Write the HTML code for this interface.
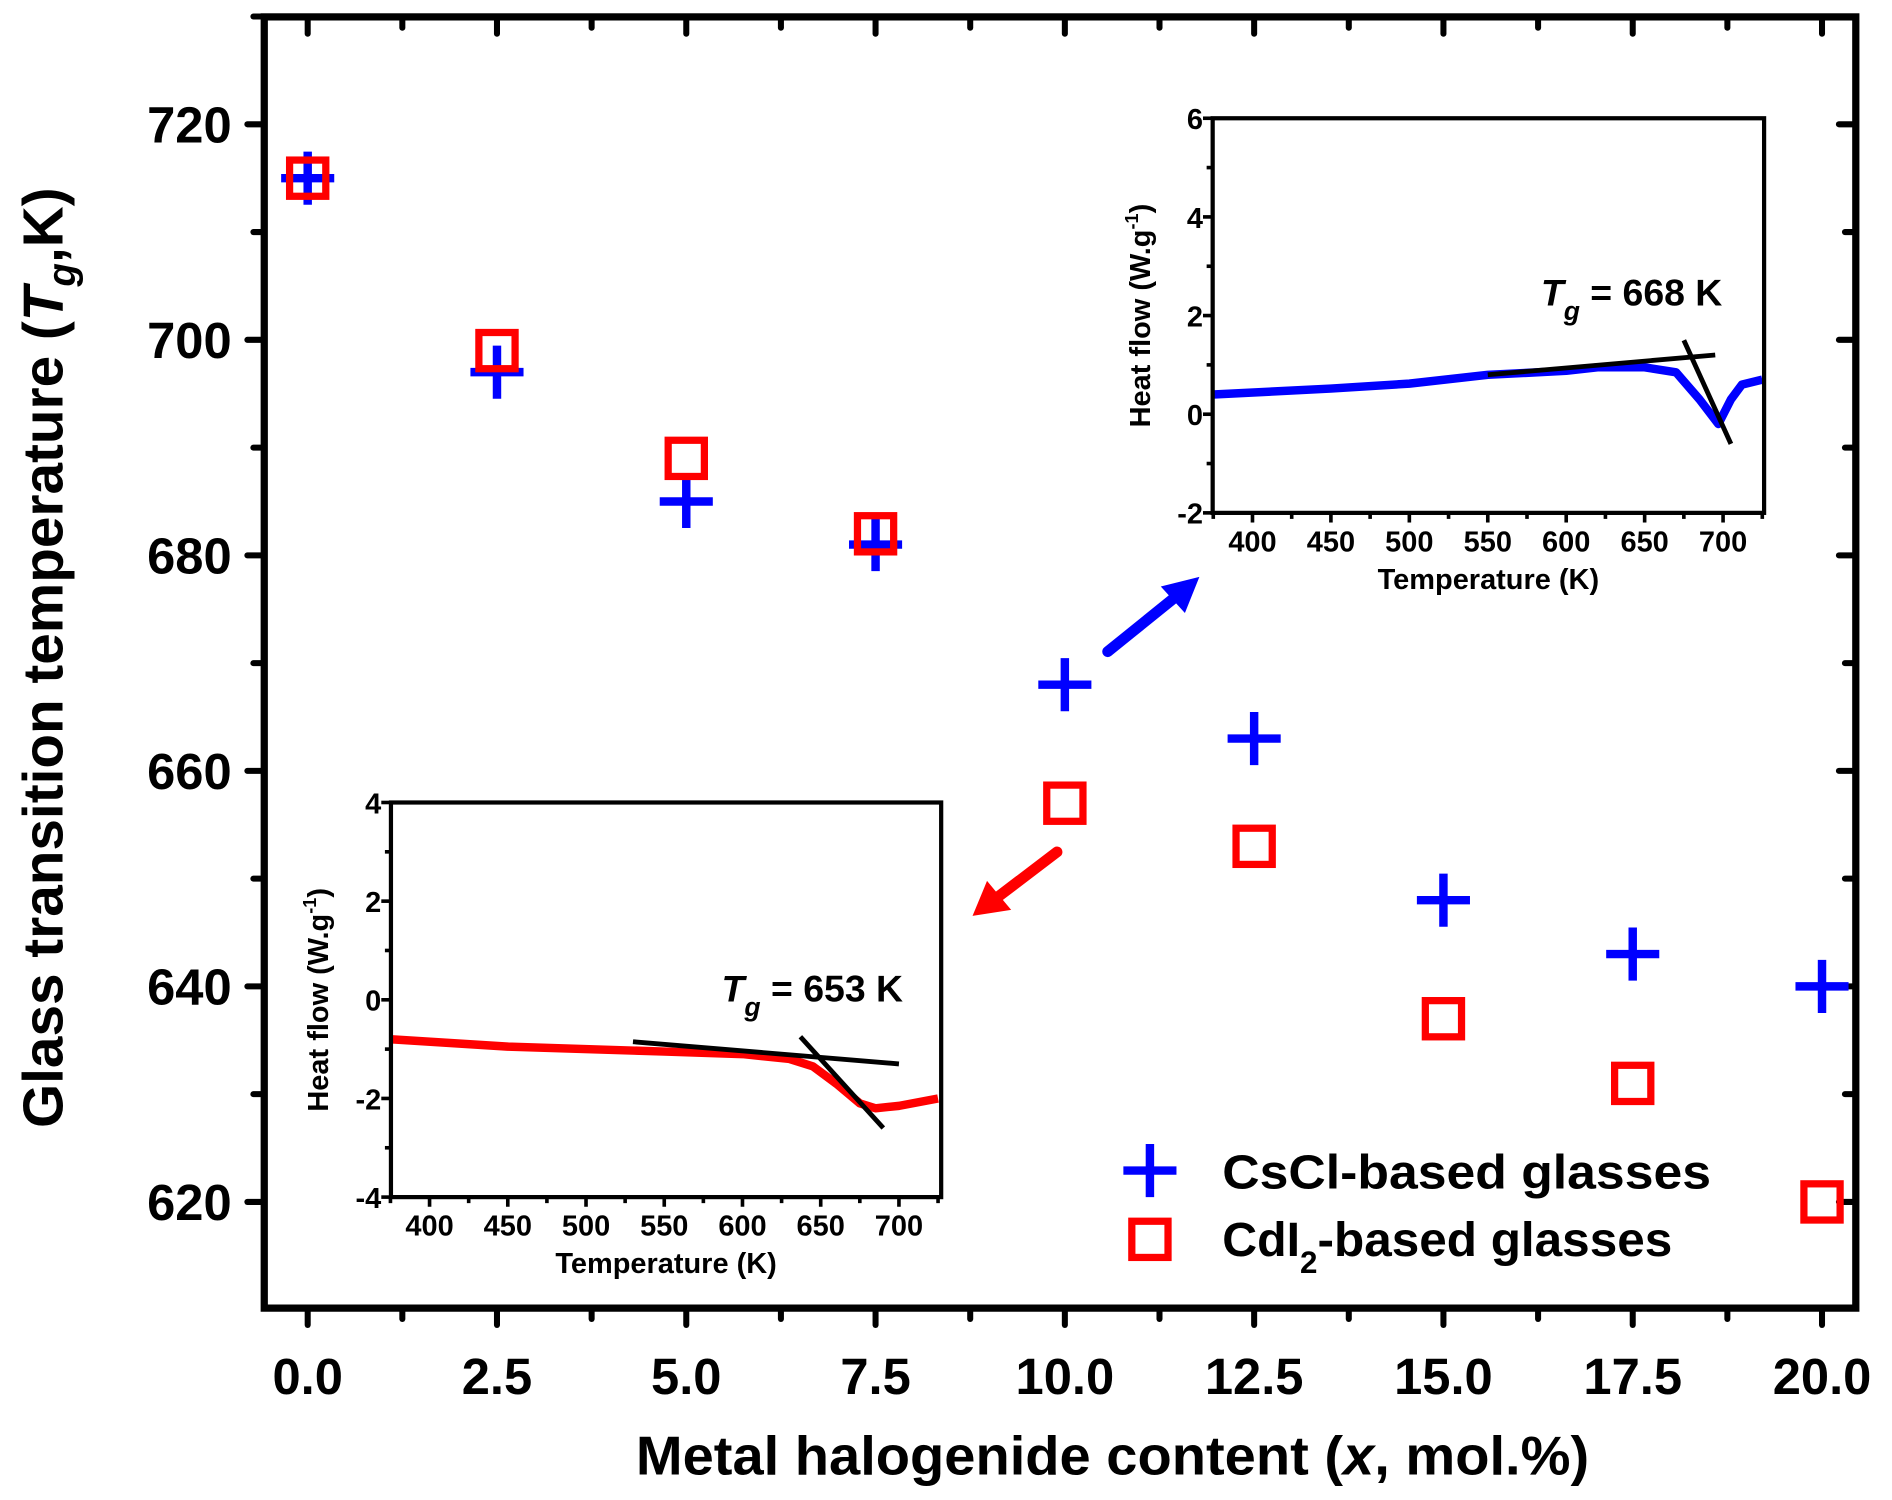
<!DOCTYPE html>
<html><head><meta charset="utf-8"><style>
html,body{margin:0;padding:0;background:#fff;}
svg{display:block;}
text{font-family:"Liberation Sans",Arial,sans-serif;font-weight:bold;fill:#000;}
</style></head><body>
<svg id="chart" xmlns="http://www.w3.org/2000/svg" width="1892" height="1500" viewBox="0 0 1568 1243" preserveAspectRatio="none">
<g id="main"></g>
<g id="inset1"></g>
<g id="inset2"></g>
<g id="extras">
  <line x1="918" y1="540" x2="975" y2="494" stroke="#0000ff" stroke-width="9" stroke-linecap="round"/>
  <polygon points="994,478 962,486 982,508" fill="#0000ff"/>
  <line x1="876" y1="706" x2="826" y2="744" stroke="#ff0000" stroke-width="9" stroke-linecap="round"/>
  <polygon points="806,759 818,730 838,754" fill="#ff0000"/>
  <g>
    <g>
      <line x1="931" y1="970" x2="975" y2="970" stroke="#0000ff" stroke-width="7"/>
      <line x1="953" y1="948" x2="953" y2="992" stroke="#0000ff" stroke-width="7"/>
      <text x="1013" y="985" font-size="40" textLength="405" lengthAdjust="spacingAndGlyphs">CsCl-based glasses</text>
    </g>
    <g>
      <rect x="938" y="1012" width="30" height="30" fill="none" stroke="#ff0000" stroke-width="6"/>
      <text x="1013" y="1041" font-size="40">CdI<tspan font-size="26" dy="14">2</tspan><tspan dy="-14" textLength="294" lengthAdjust="spacingAndGlyphs">-based glasses</tspan></text>
    </g>
  </g>
</g>
</svg>
<script>
// main chart data
const xValues = [0, 2.5, 5, 7.5, 10, 12.5, 15, 17.5, 20];
const csclTg = [715, 697, 685, 681, 668, 663, 648, 643, 640];
const cdi2Tg = [715, 699, 689, 682, 657, 653, 637, 631, 620];
const xTickLabels = ["0.0","2.5","5.0","7.5","10.0","12.5","15.0","17.5","20.0"];
const yTickValues = [620, 640, 660, 680, 700, 720];
// inset data
const inset1T = [375, 450, 500, 550, 600, 620, 650, 670, 685, 697, 705, 712, 725];
const inset1H = [0.4, 0.52, 0.62, 0.8, 0.88, 0.95, 0.95, 0.85, 0.3, -0.2, 0.3, 0.6, 0.7];
const inset1Base = [[550, 0.8], [695, 1.2]];
const inset1Tan = [[675, 1.5], [705, -0.6]];
const inset2T = [375, 450, 550, 600, 630, 645, 660, 675, 685, 700, 725];
const inset2H = [-0.8, -0.95, -1.05, -1.1, -1.2, -1.35, -1.7, -2.1, -2.2, -2.15, -2.0];
const inset2Base = [[530, -0.85], [700, -1.3]];
const inset2Tan = [[637, -0.75], [690, -2.6]];
const insetXTicks = [400, 450, 500, 550, 600, 650, 700];

const NS = "http://www.w3.org/2000/svg";
function mk(parent, tag, attrs, txt) {
  const e = document.createElementNS(NS, tag);
  for (const k in attrs) e.setAttribute(k, attrs[k]);
  if (txt !== undefined) e.textContent = txt;
  parent.appendChild(e);
  return e;
}

const L = 219, R = 1538, T = 14, B = 1084;
const xs = v => 255 + (v - 0) * (1510 - 255) / 20;
const ys = v => 103 + (720 - v) * (996 - 103) / 100;
const main = document.getElementById('main');

for (let v = -1.25; v <= 21.25; v += 1.25) {
  const x = xs(v); if (x < L - 1 || x > R + 1) continue;
  const major = Math.abs(v / 2.5 - Math.round(v / 2.5)) < 1e-6;
  const len = major ? 14 : 9;
  const t = mk(main, 'line', {x1: x, y1: B, x2: x, y2: B + len, stroke: '#000', 'stroke-width': 5, 'stroke-linecap': 'round'});
  
  
  const t2 = mk(main, 'line', {x1: x, y1: T, x2: x, y2: T + len, stroke: '#000', 'stroke-width': 5, 'stroke-linecap': 'round'});
  
  
}
for (let v = 610; v <= 730; v += 10) {
  const y = ys(v); if (y < T - 1 || y > B + 1) continue;
  const major = v % 20 === 0;
  const len = major ? 14 : 9;
  const t = mk(main, 'line', {x1: L, y1: y, x2: L - len, y2: y, stroke: '#000', 'stroke-width': 5, 'stroke-linecap': 'round'});
  
  
  const t2 = mk(main, 'line', {x1: R, y1: y, x2: R - len, y2: y, stroke: '#000', 'stroke-width': 5, 'stroke-linecap': 'round'});
  
  
}
const frame = mk(main, 'rect', {x: L, y: T, width: R - L, height: B - T, fill: 'none', stroke: '#000', 'stroke-width': 6});



xValues.forEach((v, i) => {
  const t = mk(main, 'text', {x: xs(v), y: 1155, 'font-size': 42, 'text-anchor': 'middle'}, xTickLabels[i]);
  
  
});
yTickValues.forEach(v => {
  const t = mk(main, 'text', {x: 192, y: ys(v) + 15, 'font-size': 42, 'text-anchor': 'end'}, String(v));
  
  
});
const xt = mk(main, 'text', {x: 527, y: 1222, 'font-size': 45, textLength: 790, lengthAdjust: 'spacingAndGlyphs'});
xt.innerHTML = 'Metal halogenide content (<tspan font-style="italic">x</tspan>, mol.%)';


const yt = mk(main, 'text', {x: 0, y: 0, 'font-size': 47, 'text-anchor': 'middle', transform: 'translate(52,545) rotate(-90)'});
yt.innerHTML = 'Glass transition temperature (<tspan font-style="italic">T</tspan><tspan font-style="italic" font-size="32" dy="10">g</tspan><tspan dy="-10">,K)</tspan>';



xValues.forEach((v, i) => {
  const x = xs(v), y = ys(csclTg[i]);
  const g = mk(main, 'g', {});
  
  
  mk(g, 'line', {x1: x - 22, y1: y, x2: x + 22, y2: y, stroke: '#0000ff', 'stroke-width': 7});
  mk(g, 'line', {x1: x, y1: y - 22, x2: x, y2: y + 22, stroke: '#0000ff', 'stroke-width': 7});
});
xValues.forEach((v, i) => {
  const x = xs(v), y = ys(cdi2Tg[i]);
  const r = mk(main, 'rect', {x: x - 15, y: y - 15, width: 30, height: 30, fill: 'none', stroke: '#ff0000', 'stroke-width': 6});
  
  
});

function inset(gid, box, yMin, yMax, yStep, T, H, base, tan, color, tgText, tgPos) {
  const g = document.getElementById(gid);
  const ix = v => box.x0 + (v - 400) * (box.x700 - box.x0) / 300;
  const iy = v => box.top + (yMax - v) * (box.bot - box.top) / (yMax - yMin);
  for (let v = 375; v <= 725; v += 25) {
    const x = ix(v); if (x < box.l - 1 || x > box.r + 1) continue;
    const major = v % 50 === 0;
    const t = mk(g, 'line', {x1: x, y1: box.bot, x2: x, y2: box.bot + (major ? 8 : 5), stroke: '#000', 'stroke-width': 3});
    
    
  }
  for (let v = yMin; v <= yMax; v += 1) {
    const y = iy(v);
    const major = v % yStep === 0;
    const t = mk(g, 'line', {x1: box.l, y1: y, x2: box.l - (major ? 8 : 5), y2: y, stroke: '#000', 'stroke-width': 3});
    
    
    if (major) {
      const lb = mk(g, 'text', {x: box.l - 8, y: y + 9, 'font-size': 24, 'text-anchor': 'end'}, String(v));
      
      
    }
  }
  insetXTicks.forEach(v => {
    const lb = mk(g, 'text', {x: ix(v), y: box.bot + 32, 'font-size': 24, 'text-anchor': 'middle'}, String(v));
    
    
  });
  const xl = mk(g, 'text', {x: (box.l + box.r) / 2, y: box.bot + 63, 'font-size': 24, 'text-anchor': 'middle'}, 'Temperature (K)');
  
  
  const yl = mk(g, 'text', {x: 0, y: 0, 'font-size': 24, 'text-anchor': 'middle', transform: `translate(${box.l - 52},${(box.top + box.bot) / 2}) rotate(-90)`});
  yl.innerHTML = 'Heat flow (W.g<tspan font-size="15" dy="-10">-1</tspan><tspan dy="10">)</tspan>';
  
  
  const d = T.map((t, i) => (i ? 'L' : 'M') + ix(t).toFixed(1) + ',' + iy(H[i]).toFixed(1)).join(' ');
  const cp = mk(g, 'clipPath', {id: gid + 'clip'});
  mk(cp, 'rect', {x: box.l, y: box.top, width: box.r - box.l, height: box.bot - box.top});
  const p = mk(g, 'path', {d: d, fill: 'none', stroke: color, 'stroke-width': 7, 'stroke-linejoin': 'round', 'clip-path': `url(#${gid}clip)`});
  
  
  [base, tan].forEach((ln, k) => {
    const l = mk(g, 'line', {x1: ix(ln[0][0]), y1: iy(ln[0][1]), x2: ix(ln[1][0]), y2: iy(ln[1][1]), stroke: '#000', 'stroke-width': 4});
    
    
  });
  const fr = mk(g, 'rect', {x: box.l, y: box.top, width: box.r - box.l, height: box.bot - box.top, fill: 'none', stroke: '#000', 'stroke-width': 3.5});
  
  
  const tg = mk(g, 'text', {x: tgPos[0], y: tgPos[1], 'font-size': 31});
  tg.innerHTML = '<tspan font-style="italic">T</tspan><tspan font-style="italic" font-size="22" dy="12">g</tspan><tspan dy="-12"> = ' + tgText + '</tspan>';
  
  
}
inset('inset1', {l: 1005, r: 1462, top: 98, bot: 425, x0: 1038, x700: 1428}, -2, 6, 2,
  inset1T, inset1H, inset1Base, inset1Tan, '#0000ff', '668 K', [1277, 253]);
inset('inset2', {l: 324, r: 780, top: 665, bot: 992, x0: 356, x700: 745}, -4, 4, 2,
  inset2T, inset2H, inset2Base, inset2Tan, '#ff0000', '653 K', [598, 830]);
</script>
</body></html>
